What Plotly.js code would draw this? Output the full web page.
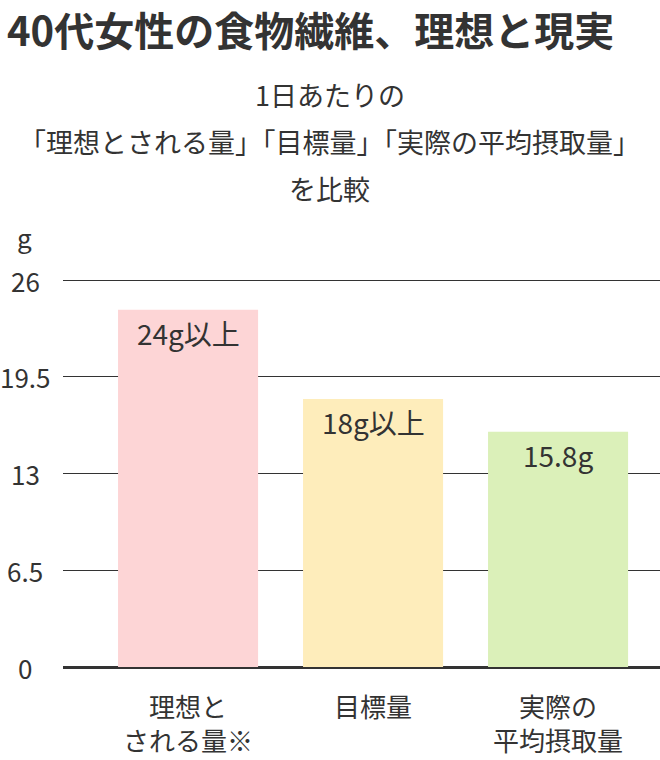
<!DOCTYPE html>
<html>
<head>
<meta charset="utf-8">
<script src="https://cdn.plot.ly/plotly-3.0.1.min.js"></script>
<style>
  html, body { margin: 0; padding: 0; background: #fff; }
  #chart { width: 660px; height: 760px; }
</style>
</head>
<body>
<div id="chart"></div>
<script>
// Data
const categories = ['理想と<br>される量※', '目標量', '実際の<br>平均摂取量'];
const values = [24, 18, 15.8];
const barLabels = ['24g以上', '18g以上', '15.8g'];
const barColors = ['#fdd5d6', '#feedbb', '#dbf0b9'];
const yTicks = [0, 6.5, 13, 19.5, 26];

const FONT = '"Noto Sans CJK JP", "Noto Sans", sans-serif';
const INK = '#333333';

let annotations = [];

// title drawn as an annotation so it can sit flush with the top
annotations.push({
  text: '<b>40代女性の食物繊維、理想と現実</b>',
  xref: 'paper', yref: 'paper', x: -0.097, y: 1, yshift: 250,
  xanchor: 'left', yanchor: 'middle', showarrow: false,
  font: {size: 40, color: INK, family: FONT}
});

// subtitle lines (plot top sits at 279px)
const subtitle = ['1日あたりの', '「理想とされる量」「目標量」「実際の平均摂取量」', 'を比較'];
subtitle.forEach((line, i) => {
  annotations.push({
    text: line, xref: 'paper', yref: 'paper', x: 0.4472, y: 1,
    yshift: 185 - i * 47, xanchor: 'center', yanchor: 'middle',
    showarrow: false, font: {size: 27, color: INK, family: FONT}
  });
});

// unit
annotations.push({
  text: 'g', xref: 'paper', yref: 'paper', x: -0.065, y: 1, yshift: 43,
  xanchor: 'center', yanchor: 'middle', showarrow: false,
  font: {size: 26, color: INK, family: FONT}
});

// y tick labels, centered like the original
yTicks.forEach((v) => {
  annotations.push({
    text: String(v), xref: 'paper', yref: 'y', x: -0.063, y: v,
    xanchor: 'center', yanchor: 'middle', showarrow: false,
    font: {size: 26, color: INK, family: FONT}
  });
});

// value labels inside bars
values.forEach((v, i) => {
  annotations.push({
    text: barLabels[i], xref: 'x', yref: 'y', x: i, y: v, yshift: -23,
    xanchor: 'center', yanchor: 'middle', showarrow: false,
    font: {size: 28, color: INK, family: FONT}
  });
});

// category labels, one annotation per line for wider spacing
categories.forEach((c, i) => {
  c.split('<br>').forEach((line, j) => {
    annotations.push({
      text: line, xref: 'x', yref: 'paper', x: i, y: 0, yshift: -38 - j * 34,
      xanchor: 'center', yanchor: 'middle', showarrow: false,
      font: {size: 26, color: INK, family: FONT}
    });
  });
});

const bars = {
  type: 'bar',
  x: [0, 1, 2],
  y: values,
  marker: {color: barColors, line: {width: 0}},
  hoverinfo: 'none'
};

const layout = {
  width: 660,
  height: 760,
  margin: {l: 63, r: 0, t: 279, b: 93},
  paper_bgcolor: '#ffffff',
  plot_bgcolor: '#ffffff',
  font: {family: FONT, color: INK},
  bargap: 0.243,
  showlegend: false,
  xaxis: {
    range: [-0.676, 2.551],
    showticklabels: false,
    showgrid: false,
    zeroline: false,
    showline: false,
    fixedrange: true
  },
  yaxis: {
    // a little headroom so the 26 gridline is drawn
    range: [0, 26.07],
    tickvals: yTicks,
    showticklabels: false,
    showgrid: true,
    gridcolor: INK,
    gridwidth: 1,
    zeroline: true,
    zerolinecolor: INK,
    zerolinewidth: 3,
    showline: false,
    fixedrange: true
  },
  annotations: annotations
};

Plotly.newPlot('chart', [bars], layout, {displayModeBar: false, staticPlot: true});
</script>
</body>
</html>
